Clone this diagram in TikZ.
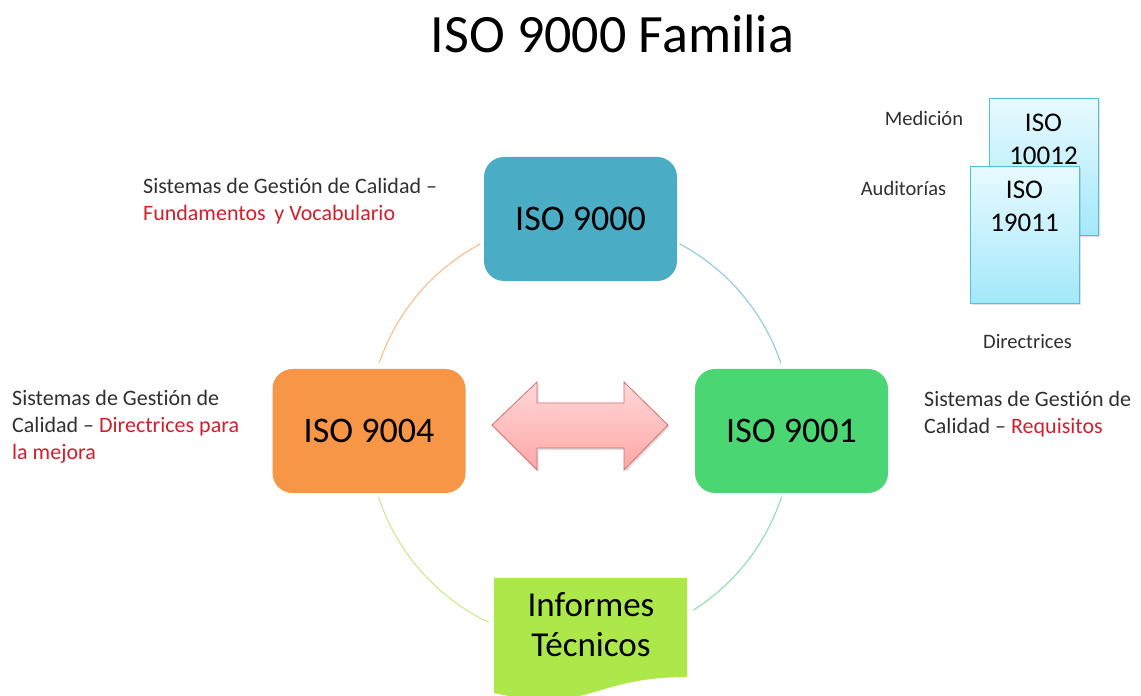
\documentclass[tikz,border=0pt]{standalone}
\usepackage{fontspec}
\setmainfont{Carlito}[Ligatures={TeX,NoCommon}]
\usetikzlibrary{shadows}
\definecolor{isoteal}{HTML}{4BACC6}
\definecolor{isoorange}{HTML}{F79646}
\definecolor{isogreen}{HTML}{4AD773}
\definecolor{isolime}{HTML}{ADE84B}
\definecolor{arctl}{HTML}{FBBE8C}
\definecolor{arctr}{HTML}{8FCCDD}
\definecolor{arcbr}{HTML}{8CE2A6}
\definecolor{arcbl}{HTML}{C8EC8E}
\definecolor{notegray}{HTML}{303030}
\definecolor{notered}{HTML}{D0202C}
\definecolor{doctop}{HTML}{E8FAFF}
\definecolor{docbottom}{HTML}{A4E8FA}
\definecolor{docline}{HTML}{4FC2DA}
\definecolor{arrowtop}{HTML}{FFD8D8}
\definecolor{arrowbottom}{HTML}{FFA6A6}
\definecolor{arrowline}{HTML}{D46E6E}
\tikzset{
BOX/.style={fill=#1, rounded corners=20pt, minimum width=193pt, minimum height=124pt, inner sep=0pt, font=\fontsize{36}{43}\selectfont},
ARC/.style={draw=#1, line width=1.1pt},
NOTE/.style={anchor=west, align=left, inner sep=0pt, text=notegray, font=\fontsize{22}{27}\selectfont},
TAG/.style={inner sep=0pt, text=notegray, font=\fontsize{20.5}{25}\selectfont},
DOC/.style={draw=docline, line width=0.8pt, top color=doctop, bottom color=docbottom, minimum width=109pt, minimum height=137pt, inner sep=0pt, drop shadow={shadow xshift=1.5pt, shadow yshift=-2pt, opacity=0.25}},
DOCTEXT/.style={align=center, inner sep=0pt, font=\fontsize{27}{33}\selectfont},
BIGARROW/.style={draw=arrowline, line width=0.8pt, top color=arrowtop, bottom color=arrowbottom, drop shadow={shadow xshift=1.5pt, shadow yshift=-2pt, opacity=0.25}},
}

\begin{document}
\begin{tikzpicture}[x=1pt, y=1pt]
	\fill[white] (0,0) rectangle (1141,696);
	\useasboundingbox (0,0) rectangle (1141,696);
	\node[font=\fontsize{54}{60}\selectfont] (title) at (612.5,662.5) {ISO 9000 Familia};

	\coordinate (C) at (580,265);
	\draw[ARC=arctl] ([shift={(118:212)}]C) arc[start angle=118, end angle=161.4, radius=212];
	\draw[ARC=arctr] ([shift={(62:212)}]C) arc[start angle=62, end angle=18.6, radius=212];
	\draw[ARC=arcbr] ([shift={(-18.1:212)}]C) arc[start angle=-18.1, end angle=-57.7, radius=212];
	\draw[ARC=arcbl] ([shift={(198.1:212)}]C) arc[start angle=198.1, end angle=244.5, radius=212];

	\node[BOX=isoteal] (iso9000) at (580.5,477) {ISO 9000};
	\node[BOX=isoorange] (iso9004) at (369,265) {ISO 9004};
	\node[BOX=isogreen] (iso9001) at (791.5,265) {ISO 9001};

	\path[BIGARROW] (492,271) -- (537,314) -- (537,293) -- (624,293) -- (624,314) -- (668,271)
	-- (624,226) -- (624,248) -- (537,248) -- (537,226) -- cycle;

	\begin{scope}
		\clip (0,0) rectangle (1141,696);
		\path[fill=isolime] (494,118) -- (687,118) -- (687,19)
		.. controls (590.5,19) and (590.5,-18.7) .. (494,3) -- cycle;
	\end{scope}
	\node[align=center, inner sep=0pt, font=\fontsize{35}{40}\selectfont] (informes) at (591,71) {Informes\\Técnicos};

	\node[NOTE] (note9000) at (143,494.5) {Sistemas de Gestión de Calidad –\\\textcolor{notered}{Fundamentos\, y Vocabulario}};
	\node[NOTE] (note9004) at (12,269) {Sistemas de Gestión de\\Calidad – \textcolor{notered}{Directrices para}\\\textcolor{notered}{la mejora}};
	\node[NOTE] (note9001) at (924,281.5) {Sistemas de Gestión de\\Calidad – \textcolor{notered}{Requisitos}};

	\node[DOC] (doc10012) at (1043.5,529.5) {};
	\node[DOCTEXT, anchor=north] (txt10012) at ([yshift=-16pt]doc10012.north) {ISO\\10012};
	\node[DOC] (doc19011) at (1024.5,461) {};
	\node[DOCTEXT, anchor=north] (txt19011) at ([yshift=-15pt]doc19011.north) {ISO\\19011};

	\node[TAG] (medicion) at (924,578) {Medición};
	\node[TAG] (auditorias) at (903.5,508) {Auditorías};
	\node[TAG] (directrices) at (1027.5,354) {Directrices};
\end{tikzpicture}
\end{document}
